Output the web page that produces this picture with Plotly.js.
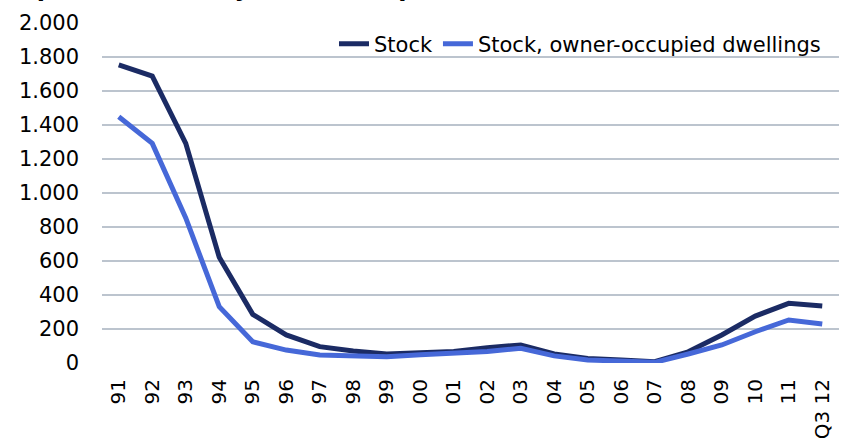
<!DOCTYPE html>
<html>
<head>
<meta charset="utf-8">
<script src="https://cdn.plot.ly/plotly-3.0.1.min.js"></script>
<style>html,body{margin:0;padding:0;background:#fff;}#chart{width:850px;height:438px;}</style>
</head>
<body>
<div id="chart"></div>
<script>
const categories = ["91","92","93","94","95","96","97","98","99","00","01","02","03","04","05","06","07","08","09","10","11","Q3 12"];
const stock = [1753,1688,1292,622,286,165,96,70,53,60,68,90,106,53,27,18,8,66,165,276,351,335];
const stockOwner = [1449,1292,853,331,125,76,47,45,37,48,55,68,86,42,18,10,4,53,106,184,253,229];
const seriesNames = ["Stock","Stock, owner-occupied dwellings"];
const titleText = "Repossessions, by stock and period";

const font = "DejaVu Sans, Verdana, sans-serif";
const traces = [
  {x: categories, y: stock, name: seriesNames[0], type: "scatter", mode: "lines",
   line: {color: "#1b2b64", width: 5}},
  {x: categories, y: stockOwner, name: seriesNames[1], type: "scatter", mode: "lines",
   line: {color: "#4668d8", width: 5}}
];
const layout = {
  width: 850, height: 438,
  margin: {l: 102, r: 11, t: 23, b: 75},
  paper_bgcolor: "#fff", plot_bgcolor: "#fff",
  font: {family: font, size: 21, color: "#000"},
  showlegend: true,
  legend: {orientation: "h", x: (826-102)/737, xanchor: "right", y: 0.938, yanchor: "middle",
           font: {family: font, size: 21, color: "#000"}, bgcolor: "rgba(255,255,255,0)",
           traceorder: "normal", itemwidth: 30, itemclick: false},
  xaxis: {type: "category", range: [-0.5, categories.length - 0.5], tickangle: -90,
          showgrid: false, zeroline: false, showline: false, ticks: "",
          tickfont: {family: font, size: 20}, ticklabelstandoff: 11},
  yaxis: {range: [0, 2000], dtick: 200, tickformat: ",d", showgrid: true,
          gridcolor: "#bcc4ce", gridwidth: 2, zeroline: false, showline: false, ticks: "",
          tickfont: {family: font, size: 21}, ticklabelstandoff: 22},
  separators: ",.",
  annotations: [{text: "<b>" + titleText + "</b>", xref: "paper", yref: "paper",
                 x: -102/737, xanchor: "left", y: (363-4.5)/340, yanchor: "bottom",
                 showarrow: false, font: {family: font, size: 24, color: "#000"}}]
};
Plotly.newPlot("chart", traces, layout, {displayModeBar: false, staticPlot: true});
</script>
</body>
</html>
